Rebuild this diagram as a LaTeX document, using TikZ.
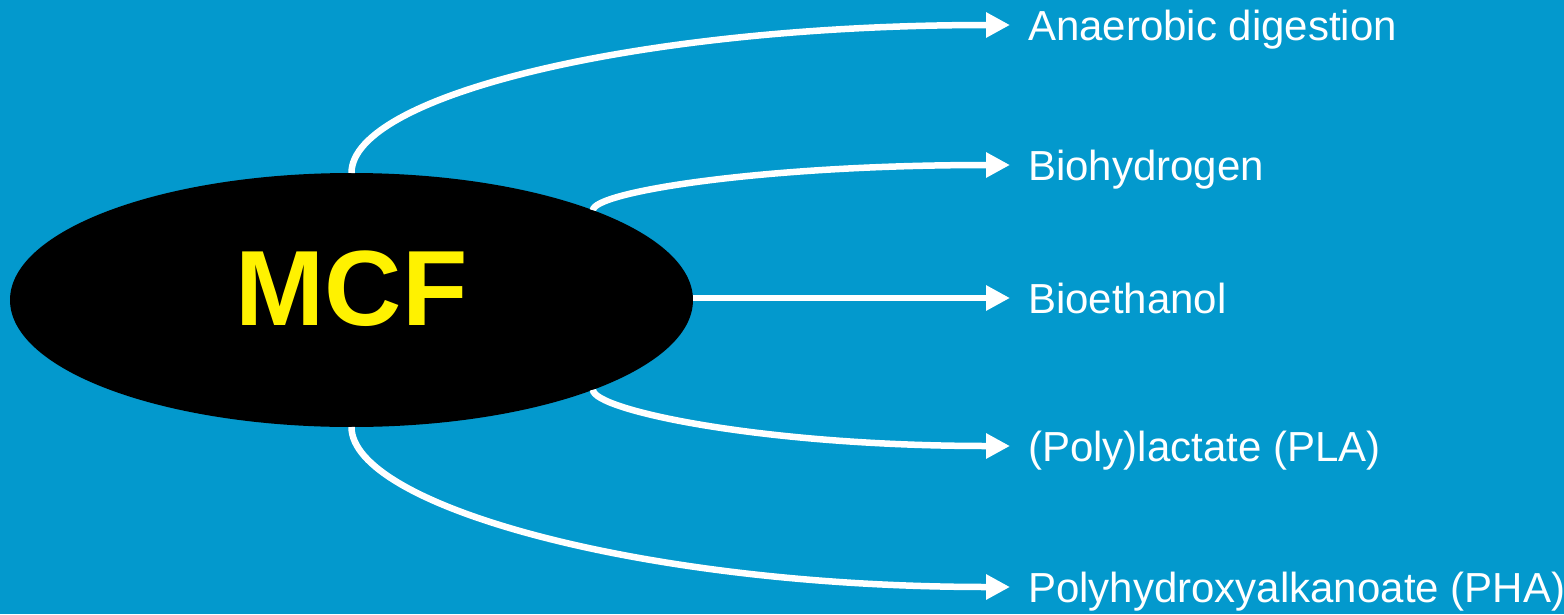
\documentclass[tikz,border=0pt]{standalone}
\usepackage{fontspec}
\setmainfont{Liberation Sans}
\usepackage{xcolor}
\usetikzlibrary{arrows.meta, shapes.geometric}

\definecolor{slideblue}{RGB}{3,153,205}

\begin{document}
\begin{tikzpicture}[
        x=1pt, y=-1pt,
        >={Triangle[length=24pt, width=24pt]},
        flow/.style={draw=white, line width=6.5pt},
        mcfnode/.style={
          ellipse,
          fill=black,
          inner sep=0pt,
          outer sep=0pt,
          minimum width=683pt,
          minimum height=254pt,
          text=yellow,
          text depth=23pt,
          font=\fontsize{107}{107}\selectfont\bfseries
        },
        product/.style={
          anchor=west,
          inner xsep=18pt,
          inner ysep=0pt,
          text height=30pt,
          text depth=0pt,
          text=white,
          font=\fontsize{42}{42}\selectfont
        }
      ]
      \fill[slideblue] (0,0) rectangle (1564,614);
      \useasboundingbox (0,0) rectangle (1564,614);

      \node[mcfnode] (mcf) at (351.5,300) {MCF};

      \node[product] (ad)  at (1010,25)  {Anaerobic digestion};
      \node[product] (bh)  at (1010,165) {Biohydrogen};
      \node[product] (be)  at (1010,298) {Bioethanol};
      \node[product] (pla) at (1010,446) {(Poly)lactate (PLA)};
      \node[product] (pha) at (1010,587) {Polyhydroxyalkanoate (PHA)};

      % routes out of the fermentation
      \draw[flow, ->] (mcf.north) .. controls +(0,-78) and +(-370,0) .. (ad.west);
      \draw[flow, ->] (mcf.north east) .. controls +(0,-18) and +(-250,0) .. (bh.west);
      \draw[flow, ->] (mcf.east |- be.west) -- (be.west);
      \draw[flow, ->] (mcf.south east) .. controls +(0,20) and +(-250,0) .. (pla.west);
      \draw[flow, ->] (mcf.south) .. controls +(0,78) and +(-370,0) .. (pha.west);
    \end{tikzpicture}
\end{document}
